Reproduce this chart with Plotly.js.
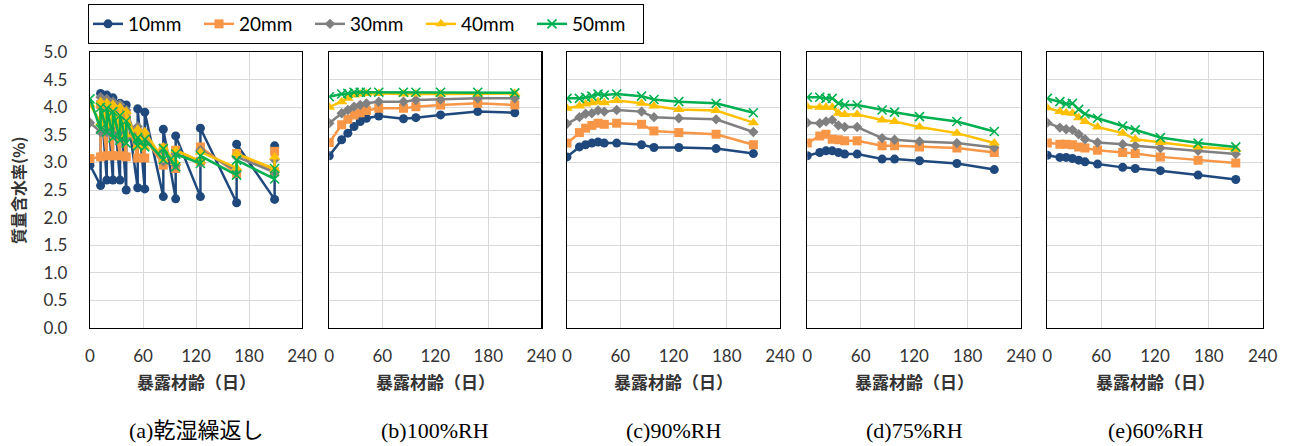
<!DOCTYPE html>
<html><head><meta charset="utf-8">
<script src="https://cdn.plot.ly/plotly-3.0.1.min.js"></script>
<style>html,body{margin:0;padding:0;background:#fff}#chart{width:1290px;height:446px}</style>
</head><body><div id="chart"></div>
<script>
// ---- data ----
const seriesNames = ['10mm','20mm','30mm','40mm','50mm'];
const panelCaptions = ['(a)乾湿繰返し','(b)100%RH','(c)90%RH','(d)75%RH','(e)60%RH'];
const xTickVals = [0,60,120,180,240];
const yTickVals = [0,0.5,1,1.5,2,2.5,3,3.5,4,4.5,5];

// (a) wet-dry cycles: each age after 0 appears twice (dried, then wetted)
const ageA = [0,12,12,19,19,26,26,34,34,41,41,54,54,62,62,83,83,97,97,125,125,166,166,209,209];
const a10 = [2.95,2.58,4.25,2.68,4.22,2.68,4.17,2.68,4.07,2.50,4.04,2.54,3.97,2.52,3.91,2.38,3.60,2.34,3.48,2.38,3.62,2.27,3.33,2.33,3.30];
const a20 = [3.07,3.10,4.05,3.12,4.02,3.12,3.98,3.12,3.92,3.10,3.85,3.08,3.55,3.08,3.45,2.95,3.26,2.89,3.22,3.02,3.28,2.80,3.16,2.83,3.20];
const a30 = [3.72,3.55,4.18,3.55,4.15,3.52,4.10,3.50,4.05,3.45,3.95,3.35,3.65,3.32,3.55,3.02,3.20,2.95,3.15,3.00,3.22,2.85,3.10,2.82,3.05];
const a40 = [4.05,3.72,4.10,3.70,4.08,3.68,4.05,3.62,4.00,3.50,3.92,3.30,3.60,3.28,3.55,3.05,3.28,3.00,3.22,3.02,3.19,2.90,3.16,2.88,3.10];
const a50 = [4.15,3.60,4.00,3.55,3.98,3.45,3.92,3.40,3.85,3.35,3.75,3.30,3.45,3.28,3.42,3.05,3.25,2.92,3.15,2.98,3.12,2.77,3.04,2.70,2.89];

// (b)-(e) constant humidity
const ageRH = [0,14,21,28,35,42,56,84,98,126,168,210];
const b10 = [3.12,3.41,3.53,3.65,3.74,3.80,3.84,3.79,3.81,3.86,3.92,3.90];
const b20 = [3.36,3.68,3.78,3.86,3.90,3.94,3.98,3.98,4.01,4.04,4.07,4.04];
const b30 = [3.71,3.89,3.95,4.01,4.04,4.07,4.10,4.10,4.13,4.14,4.16,4.16];
const b40 = [4.00,4.10,4.16,4.22,4.24,4.25,4.25,4.24,4.24,4.24,4.24,4.25];
const b50 = [4.19,4.24,4.25,4.27,4.27,4.27,4.27,4.27,4.27,4.27,4.27,4.26];

const c10 = [3.10,3.28,3.32,3.35,3.37,3.35,3.35,3.32,3.27,3.27,3.25,3.16];
const c20 = [3.35,3.54,3.62,3.67,3.71,3.69,3.71,3.69,3.57,3.54,3.51,3.32];
const c30 = [3.70,3.82,3.88,3.89,3.94,3.92,3.95,3.92,3.82,3.80,3.78,3.55];
const c40 = [3.98,4.02,4.06,4.08,4.10,4.08,4.12,4.07,4.02,3.96,3.94,3.72];
const c50 = [4.16,4.16,4.18,4.20,4.24,4.22,4.24,4.20,4.14,4.10,4.07,3.90];

const d10 = [3.12,3.18,3.21,3.21,3.18,3.15,3.15,3.06,3.06,3.03,2.98,2.87];
const d20 = [3.35,3.48,3.51,3.42,3.41,3.39,3.39,3.30,3.30,3.28,3.26,3.18];
const d30 = [3.72,3.71,3.74,3.77,3.67,3.64,3.64,3.44,3.41,3.38,3.35,3.27];
const d40 = [4.01,4.00,4.00,4.00,3.89,3.87,3.87,3.77,3.74,3.64,3.53,3.35];
const d50 = [4.18,4.18,4.16,4.16,4.07,4.04,4.04,3.95,3.91,3.83,3.74,3.56];

const e10 = [3.13,3.09,3.09,3.07,3.04,3.01,2.97,2.91,2.89,2.85,2.77,2.69];
const e20 = [3.35,3.33,3.33,3.32,3.28,3.26,3.22,3.18,3.16,3.10,3.04,2.99];
const e30 = [3.72,3.63,3.60,3.59,3.51,3.42,3.36,3.33,3.30,3.26,3.21,3.15];
const e40 = [3.99,3.92,3.90,3.89,3.81,3.74,3.64,3.53,3.42,3.36,3.28,3.24];
const e50 = [4.16,4.10,4.06,4.07,3.96,3.88,3.80,3.66,3.59,3.45,3.35,3.28];

// ---- styles ----
const colors = ['#1F497D','#F79646','#808080','#FFC000','#00B050'];
const symbols = ['circle','square','diamond','triangle-up','x-thin-open'];
const msizes = [9,9,8,10,9];

const panels = [
  {x: ageA,  ys:[a10,a20,a30,a40,a50]},
  {x: ageRH, ys:[b10,b20,b30,b40,b50]},
  {x: ageRH, ys:[c10,c20,c30,c40,c50]},
  {x: ageRH, ys:[d10,d20,d30,d40,d50]},
  {x: ageRH, ys:[e10,e20,e30,e40,e50]}
];
const domains = [[90,302],[329.3,541.3],[567,780],[807.3,1021],[1047.3,1262.7]].map(d=>[d[0]/1290,d[1]/1290]);
const yDom = [1-328/446, 1-52/446];

const traces = [];
panels.forEach((p,pi)=>{
  p.ys.forEach((yv,si)=>{
    traces.push({
      type:'scatter', mode:'lines+markers', x:p.x, y:yv,
      name: seriesNames[si], legendgroup: seriesNames[si], showlegend: pi===0,
      xaxis: pi===0?'x':'x'+(pi+1), yaxis: pi===0?'y':'y'+(pi+1),
      line:{color:colors[si], width:2.5},
      marker:{color:colors[si], symbol:symbols[si], size:msizes[si],
              line:{color:colors[si], width: si===4?1.6:0}}
    });
  });
});

const tickFont = {family:'Lato, "Liberation Sans", sans-serif', size:17, color:'#333'};
const layout = {
  width:1290, height:446, margin:{l:0,r:0,t:0,b:0},
  paper_bgcolor:'#fff', plot_bgcolor:'#fff', showlegend:true,
  legend:{orientation:'h', x:88/1290, y:1-4/446, xanchor:'left', yanchor:'top',
          bordercolor:'#000', borderwidth:1, bgcolor:'#fff',
          font:{family:'Lato, "Liberation Sans", sans-serif', size:19, color:'#000'},
          entrywidth:66, entrywidthmode:'pixels', itemwidth:30},
  annotations:[]
};
domains.forEach((d,i)=>{
  const xk = i===0?'xaxis':'xaxis'+(i+1);
  const yk = i===0?'yaxis':'yaxis'+(i+1);
  layout[xk] = {domain:d, anchor: i===0?'y':'y'+(i+1), range:[0,240], tickvals:xTickVals,
    showgrid:true, gridcolor:'#D9D9D9', gridwidth:1, zeroline:false,
    showline:true, mirror:true, linecolor:'#000', linewidth:1.3,
    ticks:'outside', ticklen:12, tickcolor:'rgba(0,0,0,0)', tickfont:tickFont, fixedrange:true};
  layout[yk] = {domain:yDom, anchor: i===0?'x':'x'+(i+1), range:[0,5], tickvals:yTickVals,
    tickformat:'.1f', showticklabels: i===0,
    showgrid:true, gridcolor:'#D9D9D9', gridwidth:1, zeroline:false,
    showline:true, mirror:true, linecolor:'#000', linewidth:1.3,
    ticks: i===0?'outside':'', ticklen:18, tickcolor:'rgba(0,0,0,0)', tickfont:tickFont, fixedrange:true};
  const cx = (d[0]+d[1])/2;
  layout.annotations.push({xref:'paper', yref:'paper', x:cx, y:1-381/446, xanchor:'center', yanchor:'middle',
    text:'<b>暴露材齢（日）</b>', showarrow:false,
    font:{family:'"Noto Sans CJK JP", sans-serif', size:17, color:'#333'}});
  layout.annotations.push({xref:'paper', yref:'paper', x:cx, y:1-430/446, xanchor:'center', yanchor:'middle',
    text:panelCaptions[i], showarrow:false,
    font:{family:'"Liberation Serif", "Noto Sans CJK JP", serif', size:22, color:'#000'}});
});
layout.annotations.push({xref:'paper', yref:'paper', x:18/1290, y:1-190/446, xanchor:'center', yanchor:'middle',
  text:'<b>質量含水率(%)</b>', textangle:-90, showarrow:false,
  font:{family:'"Noto Sans CJK JP", sans-serif', size:16, color:'#333'}});

Plotly.newPlot('chart', traces, layout, {staticPlot:true, displayModeBar:false});
</script>
</body></html>
